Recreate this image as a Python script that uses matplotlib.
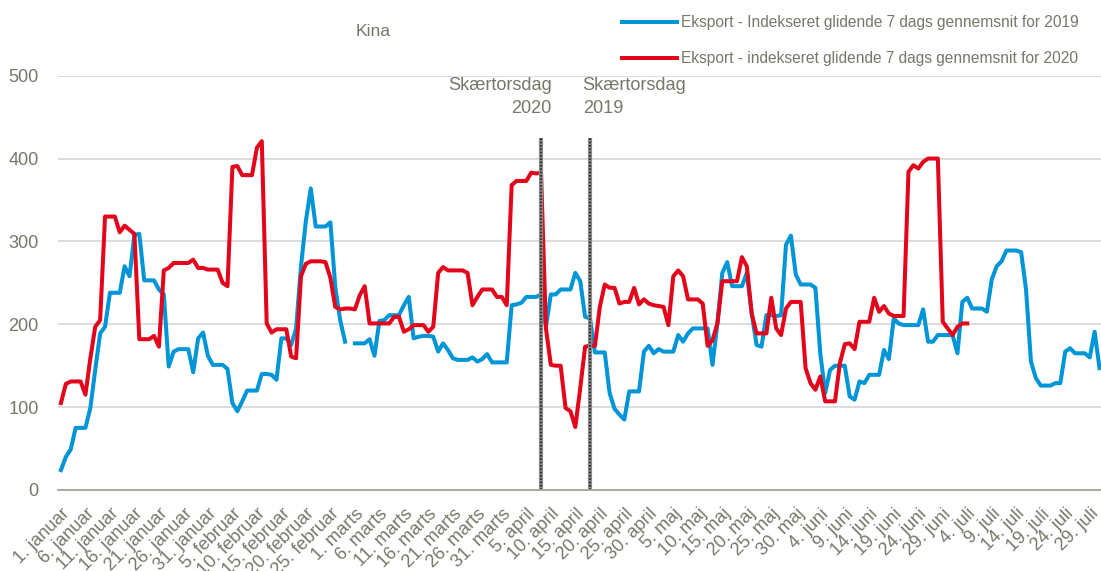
import matplotlib
matplotlib.use("Agg")
import matplotlib.pyplot as plt
import numpy as np
from matplotlib import font_manager

# ---- fonts / colours ----
_names = {f.name for f in font_manager.fontManager.ttflist}
FONT = ["Liberation Sans Narrow", "Liberation Sans", "DejaVu Sans"]
FONT = [f for f in FONT if f in _names] or ["DejaVu Sans"]
NARROW = FONT[0] == "Liberation Sans Narrow"
plt.rcParams["font.family"] = FONT
_k = 1.0 if NARROW else 0.84   # shrink regular width font to fit narrow layout

_BLUE = "#0095d6"
_RED = "#e3051b"
_TXT = "#77776a"
_GRID = "#d9d9d9"
_AXIS = "#a6a692"

# ---- data (day index 0 = 1. januar) ----
eksport_2019 = [
    24, 40, 49, 75, 75, 75, 99, 145, 189, 197, 238, 238, 238, 270, 258, 308, 309, 253, 253, 253,
    242, 236, 149, 167, 170, 170, 170, 142, 183, 190, 162, 151, 151, 151, 146, 105, 95, 107, 120, 120,
    120, 140, 140, 139, 133, 183, 183, 175, 195, 270, 325, 364, 318, 318, 318, 323, 245, 205, 179, np.nan,
    177, 177, 177, 182, 162, 204, 205, 211, 211, 211, 223, 233, 183, 185, 186, 186, 185, 167, 177, 169,
    159, 157, 157, 157, 160, 155, 158, 164, 154, 154, 154, 154, 223, 224, 226, 233, 233, 233, 236, 197,
    236, 236, 242, 242, 242, 262, 252, 209, 207, 166, 166, 166, 117, 98, 91, 85, 119, 119, 119, 167,
    174, 165, 170, 167, 167, 167, 187, 179, 189, 195, 195, 195, 195, 151, 201, 262, 275, 246, 246, 246,
    262, 213, 175, 173, 211, 211, 210, 211, 296, 307, 260, 248, 248, 248, 244, 165, 117, 145, 150, 150,
    150, 113, 109, 131, 129, 139, 139, 139, 169, 158, 207, 201, 199, 199, 199, 199, 218, 179, 179, 187,
    187, 187, 187, 165, 227, 232, 219, 219, 219, 215, 254, 270, 276, 289, 289, 289, 287, 242, 155, 135,
    126, 126, 126, 129, 129, 167, 171, 165, 165, 165, 160, 191, 147,
]
eksport_2020 = [
    105, 128, 131, 131, 131, 115, 159, 197, 205, 330, 330, 330, 311, 319, 314, 309, 182, 182, 182, 186,
    173, 265, 268, 274, 274, 274, 274, 278, 268, 268, 266, 266, 266, 250, 246, 390, 391, 380, 380, 380,
    413, 421, 201, 190, 194, 194, 194, 161, 159, 258, 273, 276, 276, 276, 275, 256, 221, 218, 219, 219,
    218, 235, 246, 201, 201, 201, 201, 201, 209, 209, 191, 194, 199, 199, 199, 191, 197, 262, 269, 265,
    265, 265, 265, 262, 223, 233, 242, 242, 242, 233, 233, 223, 368, 373, 373, 373, 383, 382, 383, 195,
    151, 150, 150, 99, 95, 76, 123, 173, 174, 174, 221, 248, 244, 244, 225, 227, 227, 244, 224, 230,
    225, 223, 222, 221, 199, 258, 265, 258, 230, 230, 230, 225, 174, 181, 201, 252, 252, 252, 252, 281,
    270, 213, 189, 189, 189, 232, 195, 187, 219, 227, 227, 227, 147, 129, 121, 137, 107, 107, 107, 153,
    176, 177, 170, 203, 203, 203, 232, 215, 222, 213, 210, 210, 210, 384, 392, 388, 396, 400, 400, 400,
    203, 195, 187, 197, 201, 201,
]
tick_labels = [
    "1. januar", "6. januar", "11. januar", "16. januar", "21. januar", "26. januar", "31. januar",
    "5. februar", "10. februar", "15. februar", "20. februar", "25. februar",
    "1. marts", "6. marts", "11. marts", "16. marts", "21. marts", "26. marts", "31. marts",
    "5. april", "10. april", "15. april", "20. april", "25. april", "30. april",
    "5. maj", "10. maj", "15. maj", "20. maj", "25. maj", "30. maj",
    "4. juni", "9. juni", "14. juni", "19. juni", "24. juni", "29. juni",
    "4. juli", "9. juli", "14. juli", "19. juli", "24. juli", "29. juli",
]
skaertorsdag_dag = [98, 108]          # day index of Skærtorsdag 2020 / 2019
skaertorsdag_tekst = ["Skærtorsdag\n2020", "Skærtorsdag\n2019"]

fig = plt.figure(figsize=(11.01, 5.71), dpi=100)
ax = fig.add_axes([58 / 1101, 81 / 571, 1 - 58 / 1101, 414.3 / 571])

x19 = np.arange(len(eksport_2019))
x20 = np.arange(len(eksport_2020))
ax.plot(x19, eksport_2019, color=_BLUE, lw=2.9, solid_joinstyle="round",
        label="Eksport - Indekseret glidende 7 dags gennemsnit for 2019")
ax.plot(x20, eksport_2020, color=_RED, lw=2.9, solid_joinstyle="round",
        label="Eksport - indekseret glidende 7 dags gennemsnit for 2020")

# Skærtorsdag markers
for d in skaertorsdag_dag:
    ax.plot([d, d], [0, 425], color="#8a8a8a", lw=3, solid_capstyle="butt", zorder=4)
    ax.plot([d, d], [0, 425], color="#202020", lw=1.2, ls=(0, (1, 1)), zorder=5)
ax.text(skaertorsdag_dag[0] + 2.2, 498, skaertorsdag_tekst[0], ha="right", va="top",
        fontsize=15.5 * _k, color=_TXT, linespacing=1.4)
ax.text(skaertorsdag_dag[1] - 1.5, 498, skaertorsdag_tekst[1], ha="left", va="top",
        fontsize=15.5 * _k, color=_TXT, linespacing=1.4)

ax.set_xlim(-0.6, 212.3)
ax.set_ylim(0, 500)
ax.set_yticks(np.arange(0, 501, 100))
ax.set_xticks(np.arange(0, len(tick_labels) * 5, 5))
ax.set_xticklabels(tick_labels, rotation=45, ha="right", rotation_mode="anchor")
ax.tick_params(axis="x", length=0, pad=11, labelsize=15.5 * _k, labelcolor=_TXT)
ax.tick_params(axis="y", length=0, pad=14, labelsize=15.5 * _k, labelcolor=_TXT)

ax.grid(True, axis="y", color=_GRID, lw=1.3)
ax.set_axisbelow(True)
for s in ("left", "right", "top"):
    ax.spines[s].set_visible(False)
ax.spines["bottom"].set_color(_AXIS)
ax.spines["bottom"].set_linewidth(1.3)
ax.spines["bottom"].set_zorder(6)

fig.text(373 / 1101, 1 - 31 / 571, "Kina", ha="center", va="center", fontsize=15 * _k, color=_TXT)
fig.legend(loc="upper left", bbox_to_anchor=(622 / 1101, 1 - 15 / 571), frameon=False,
           fontsize=13.3 * _k, labelcolor=_TXT, handlelength=55 / (13.3 * _k * 100 / 72),
           handletextpad=0.25, labelspacing=1.35, borderpad=0, borderaxespad=0)

fig.savefig("out.png", dpi=100)
